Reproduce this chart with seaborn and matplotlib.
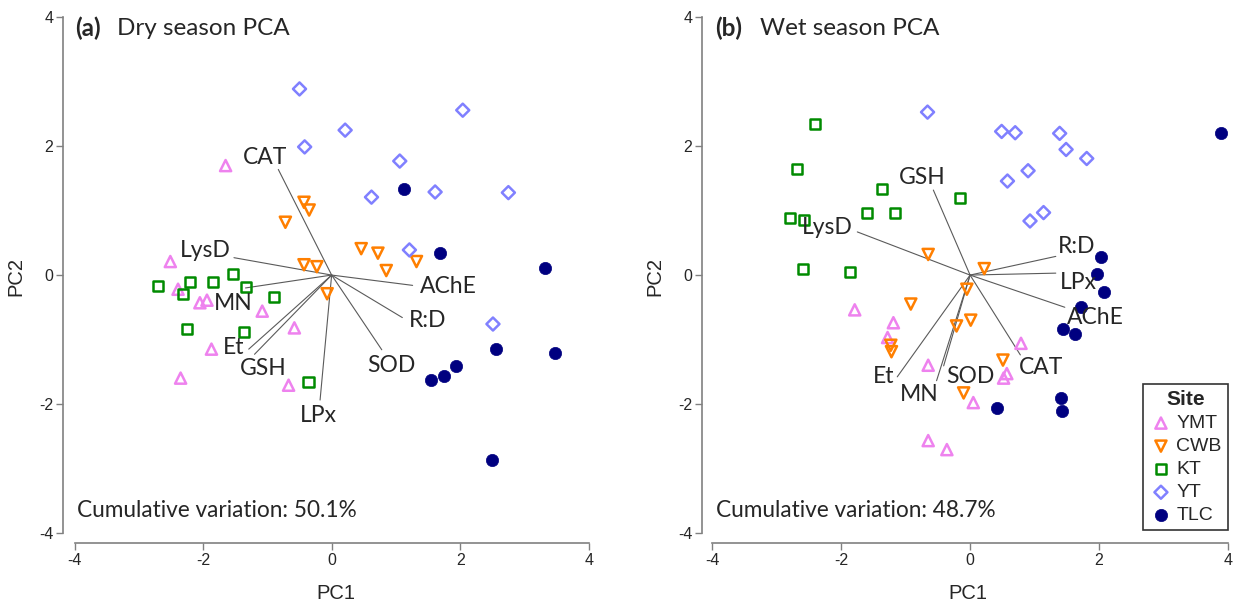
import seaborn as sns
import matplotlib.pyplot as plt
import pandas as pd

# Sites, colours and markers
sites = ['YMT', 'CWB', 'KT', 'YT', 'TLC']
site_colors = ['#EE82EE', '#FF7F00', '#008B00', '#8080FF', '#000080']
site_markers = ['^', 'v', 's', 'D', 'o']
site_sizes = [64, 64, 52, 44, 78]

# Dry season PCA scores (PC1, PC2) per site
dry_pc1 = {
    'YMT': [-1.65, -2.51, -2.39, -2.05, -1.94, -1.08, -0.58, -1.87, -2.35, -0.67],
    'CWB': [-0.43, -0.35, -0.72, 0.46, 0.72, 1.32, 0.85, -0.43, -0.23, -0.07],
    'KT': [-2.70, -2.21, -2.31, -1.85, -1.53, -1.33, -0.90, -2.25, -1.36, -0.36],
    'YT': [-0.50, 2.04, 0.21, -0.42, 1.06, 0.62, 1.61, 2.75, 1.21, 2.51],
    'TLC': [1.12, 1.68, 3.32, 2.56, 3.48, 1.93, 1.75, 1.54, 2.49],
}
dry_pc2 = {
    'YMT': [1.70, 0.21, -0.22, -0.43, -0.39, -0.56, -0.82, -1.15, -1.60, -1.71],
    'CWB': [1.13, 1.01, 0.82, 0.41, 0.34, 0.21, 0.07, 0.16, 0.13, -0.29],
    'KT': [-0.17, -0.11, -0.30, -0.10, 0.02, -0.18, -0.34, -0.83, -0.89, -1.66],
    'YT': [2.89, 2.56, 2.25, 1.99, 1.77, 1.21, 1.29, 1.28, 0.39, -0.76],
    'TLC': [1.33, 0.34, 0.11, -1.15, -1.21, -1.41, -1.57, -1.63, -2.87],
}

# Wet season PCA scores (PC1, PC2) per site
wet_pc1 = {
    'YMT': [-1.79, -1.19, -1.28, -0.65, 0.79, 0.57, 0.52, 0.05, -0.65, -0.36],
    'CWB': [-0.65, 0.22, -0.05, -0.92, 0.01, -0.21, -1.23, -1.22, 0.51, -0.10],
    'KT': [-2.40, -2.68, -1.36, -1.60, -1.16, -2.80, -2.58, -2.60, -1.86, -0.16],
    'YT': [-0.66, 0.49, 0.70, 1.39, 1.49, 1.81, 0.90, 0.58, 1.14, 0.93],
    'TLC': [3.89, 2.03, 1.97, 2.08, 1.72, 1.44, 1.63, 0.42, 1.41, 1.42],
}
wet_pc2 = {
    'YMT': [-0.54, -0.74, -0.97, -1.40, -1.06, -1.53, -1.60, -1.98, -2.57, -2.71],
    'CWB': [0.32, 0.10, -0.22, -0.45, -0.70, -0.79, -1.09, -1.19, -1.32, -1.83],
    'KT': [2.34, 1.64, 1.33, 0.97, 0.96, 0.89, 0.86, 0.10, 0.04, 1.20],
    'YT': [2.53, 2.23, 2.21, 2.20, 1.95, 1.81, 1.62, 1.46, 0.97, 0.84],
    'TLC': [2.20, 0.28, 0.02, -0.27, -0.50, -0.84, -0.91, -2.06, -1.91, -2.11],
}

# Variable loadings (vector ends)
dry_vars = ['CAT', 'LysD', 'MN', 'Et', 'GSH', 'LPx', 'AChE', 'R:D', 'SOD']
dry_load1 = [-0.83, -1.52, -1.34, -1.29, -1.20, -0.18, 1.26, 1.10, 0.78]
dry_load2 = [1.64, 0.27, -0.20, -1.15, -1.23, -1.94, -0.16, -0.66, -1.16]
wet_vars = ['GSH', 'LysD', 'R:D', 'LPx', 'AChE', 'CAT', 'Et', 'MN', 'SOD']
wet_load1 = [-0.57, -1.75, 1.33, 1.33, 1.47, 0.78, -1.13, -0.52, -0.41]
wet_load2 = [1.32, 0.67, 0.29, 0.03, -0.50, -1.24, -1.58, -1.64, -1.41]

# Where the variable names sit
dry_lab_x = [-1.04, -1.96, -1.53, -1.52, -1.07, -0.21, 1.81, 1.49, 0.93]
dry_lab_y = [1.83, 0.38, -0.44, -1.12, -1.45, -2.18, -0.17, -0.71, -1.40]
wet_lab_x = [-0.74, -2.22, 1.65, 1.68, 1.94, 1.10, -1.34, -0.79, 0.01]
wet_lab_y = [1.51, 0.74, 0.44, -0.12, -0.66, -1.43, -1.58, -1.86, -1.58]

cumvar = ['50.1%', '48.7%']

sns.set_style('white')
plt.rcParams['font.family'] = ['Liberation Sans', 'DejaVu Sans']
plt.rcParams['axes.unicode_minus'] = False

fig = plt.figure(figsize=(12.33, 6.03), dpi=100)
W, H = 1233, 603
ax_a = fig.add_axes([63 / W, (603 - 543) / H, 545 / W, 532 / H])
ax_b = fig.add_axes([702 / W, (603 - 543) / H, 531 / W, 532 / H])


def draw_panel(ax, pc1, pc2, vars_, l1, l2, lx, ly, tag, title, cv, xlim, tag_x, title_x):
    # loading vectors
    for v, a, b, tx, ty in zip(vars_, l1, l2, lx, ly):
        ax.plot([0, a], [0, b], color='#5a5a5a', lw=0.8, zorder=1)
        ax.text(tx, ty, v, family='Lato', fontsize=16.5, ha='center', va='center', zorder=4)
    # site scores
    for s, col, mk, sz in zip(sites, site_colors, site_markers, site_sizes):
        df = pd.DataFrame({'PC1': pc1[s], 'PC2': pc2[s]})
        if mk == 'o':
            sns.scatterplot(data=df, x='PC1', y='PC2', ax=ax, marker=mk, s=sz,
                            color=col, edgecolor=col, linewidth=0.5, label=s,
                            zorder=3, clip_on=False)
        else:
            sns.scatterplot(data=df, x='PC1', y='PC2', ax=ax, marker=mk, s=sz,
                            color=col, facecolor='none', edgecolor=col,
                            linewidth=1.8, label=s, zorder=3, clip_on=False)
    ax.set_xlim(*xlim)
    ax.set_ylim(-4.16, 4.1)
    for side in ['top', 'right']:
        ax.spines[side].set_visible(False)
    for side in ['left', 'bottom']:
        ax.spines[side].set_color('#808080')
        ax.spines[side].set_linewidth(1.2)
    ax.spines['left'].set_bounds(-4, 4)
    ax.spines['bottom'].set_bounds(-4, 4)
    ax.spines['bottom'].set_position(('data', -4.16))
    ax.set_xticks([-4, -2, 0, 2, 4])
    ax.set_yticks([-4, -2, 0, 2, 4])
    ax.tick_params(axis='both', direction='out', length=5, width=1,
                   color='#808080', labelsize=11.5, pad=2, left=True, bottom=True)
    ax.set_xlabel('PC1', fontsize=14.5, labelpad=12)
    ax.set_ylabel('PC2', fontsize=14.5, labelpad=10)
    ax.text(tag_x, 0.968, tag, transform=ax.transAxes, family='Lato',
            fontsize=17.5, fontweight='bold', va='center', ha='left')
    ax.text(title_x, 0.968, title, transform=ax.transAxes, family='Lato',
            fontsize=17.5, va='center', ha='left')
    ax.text(0.026, 0.061, 'Cumulative variation: ' + cv, transform=ax.transAxes,
            family='Lato', fontsize=16.3, va='center', ha='left')


draw_panel(ax_a, dry_pc1, dry_pc2, dry_vars, dry_load1, dry_load2,
           dry_lab_x, dry_lab_y, '(a)', 'Dry season PCA', cumvar[0], (-4.18, 4.3),
           0.022, 0.099)
draw_panel(ax_b, wet_pc1, wet_pc2, wet_vars, wet_load1, wet_load2,
           wet_lab_x, wet_lab_y, '(b)', 'Wet season PCA', cumvar[1], (-4.16, 4.08),
           0.024, 0.109)

ax_a.get_legend().remove()
leg = ax_b.legend(title='Site', loc='lower right', bbox_to_anchor=(0.99, 0.024),
                  fontsize=14, title_fontproperties={'weight': 'bold', 'size': 15},
                  frameon=True, fancybox=False, framealpha=1, edgecolor='#333333',
                  handletextpad=0.2, handlelength=1.2, borderpad=0.3,
                  labelspacing=0.28, borderaxespad=0)
leg.get_frame().set_linewidth(1.2)

plt.savefig('out.png', dpi=100)
